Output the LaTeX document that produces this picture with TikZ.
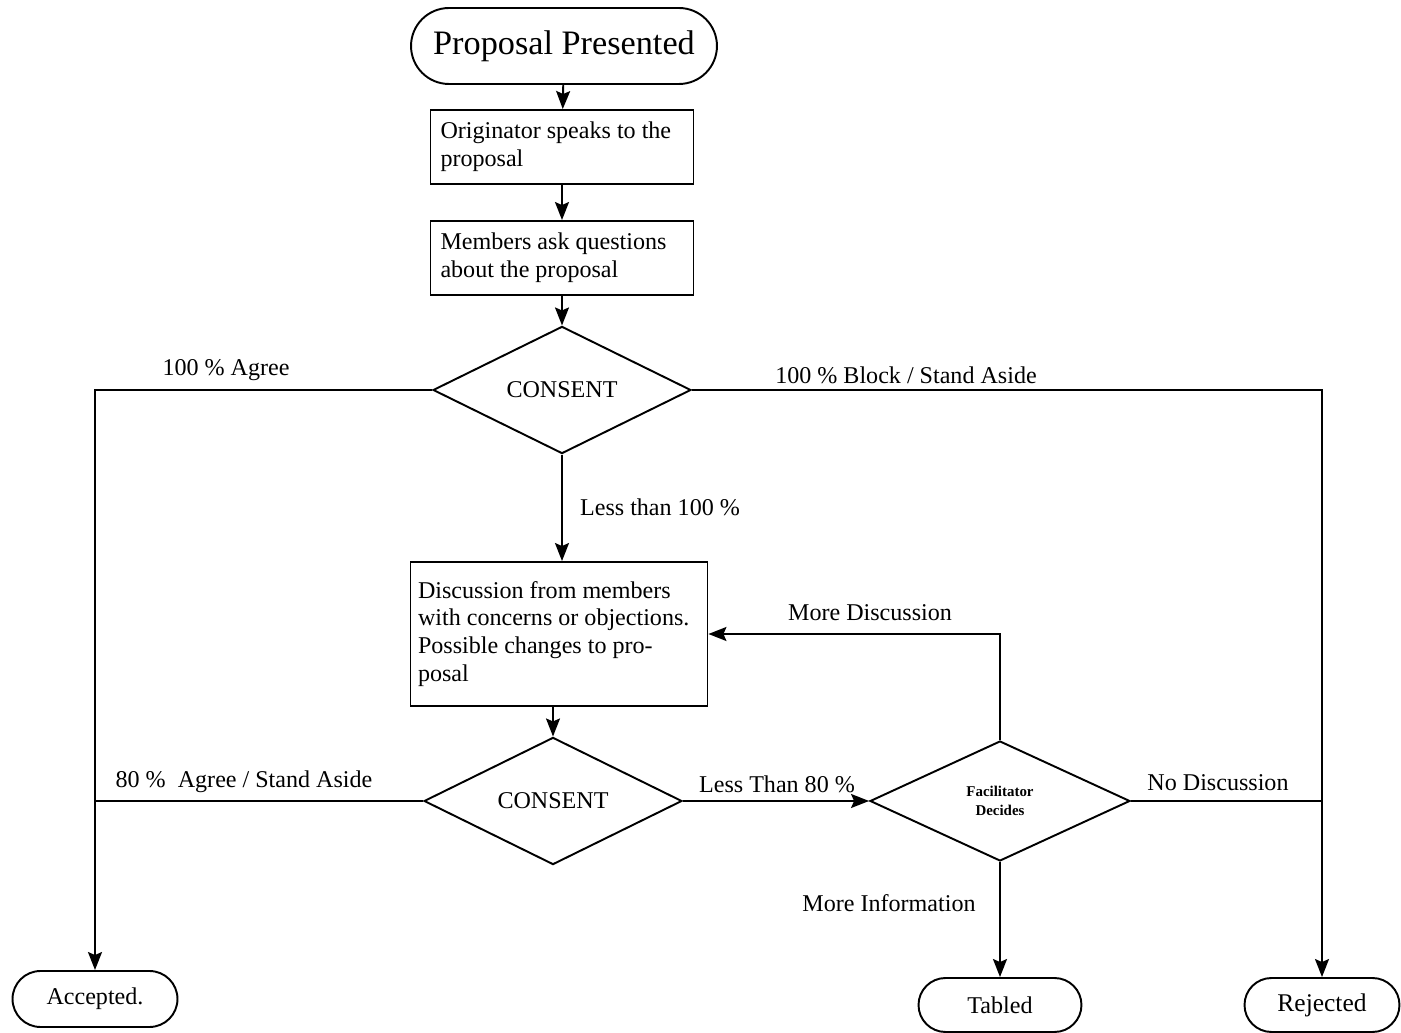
\documentclass[tikz,border=0pt]{standalone}
\usepackage{fontspec}
\setmainfont{Liberation Serif}
\usetikzlibrary{arrows.meta, positioning, shapes.geometric, shapes.misc}

\begin{document}
\begin{tikzpicture}[
    x=0.02cm, y=-0.02cm,
    line width=1.1pt,
    font=\fontsize{13.7}{15.9}\selectfont,
    ende/.style = {rounded rectangle, draw, minimum height=1.12cm, inner sep=0pt},
    punkt/.style = {rectangle, draw, align=flush left, inner sep=0.2cm, text width=4.86cm, minimum height=1.48cm},
    raute/.style = {diamond, draw, inner sep=0pt, minimum width=5.16cm, minimum height=2.4cm},
    pil/.style = {black, -{Stealth[length=3.6mm, width=2.8mm, inset=0.6mm]}},
    lab/.style = {inner sep=1pt}
    ]
  \useasboundingbox (0,0) rectangle (1401,1033);

  \node[ende, minimum width=6.12cm, minimum height=1.52cm, font=\fontsize{19.5}{22}\selectfont] (pp) at (564,46) {Proposal Presented};
  \node[punkt] (orig) at (562,147) {Originator speaks to the\\proposal};
  \node[punkt] (memb) at (562,258) {Members ask questions\\about the proposal};
  \node[raute] (cons1) at (562,390) {CONSENT};
  \node[punkt, inner sep=0.15cm, text width=5.64cm, minimum height=2.88cm] (disc) at (559,634) {Discussion from members\\with concerns or objections.\\Possible changes to pro-\\posal};
  \node[raute] (cons2) at (553,801) {CONSENT};
  \node[raute, minimum width=5.2cm, font=\fontsize{8.5}{11}\selectfont\bfseries, align=center] (fac) at (1000,801) {Facilitator\\Decides};

  \node[ende, minimum width=3.3cm] (acc) at (95,999) {Accepted.};
  \node[ende, minimum width=3.26cm, minimum height=1.08cm] (tab) at (1000,1005) {Tabled};
  \node[ende, minimum width=3.1cm, minimum height=1.08cm, font=\fontsize{14.5}{16}\selectfont] (rej) at (1322,1005) {Rejected};

  \node[lab] (l1) at (226,370) {100 \% Agree};
  \node[lab] (l2) at (906,375) {100 \% Block / Stand Aside};
  \node[lab] (l3) at (660,507) {Less than 100 \%};
  \node[lab] (l4) at (870,613) {More Discussion};
  \node[lab] (l5) at (244,782) {80 \%\ \ Agree / Stand Aside};
  \node[lab] (l6) at (777,784) {Less Than 80 \%};
  \node[lab] (l7) at (1218,783) {No Discussion};
  \node[lab] (l8) at (889,903) {More Information};

  \draw[pil] (pp) -- (orig);
  \draw[pil] (orig) -- (memb);
  \draw[pil] (memb) -- (cons1);
  \draw[pil] (cons1.south) -- (cons1.south |- disc.north);
  \draw[pil] (cons2 |- disc.south) -- (cons2.north);

  \draw[pil] (cons1.west) -| (acc.north);
  \draw[pil] (cons1.east) -| (rej.north);
  \draw (cons2.west) -- (cons2.west -| acc.north);
  \draw[pil] (cons2.east) -- (fac.west);
  \draw[pil] (fac.north) |- (disc.east);
  \draw (fac.east) -- (fac.east -| rej.north);
  \draw[pil] (fac.south) -- (tab.north);

\end{tikzpicture}
\end{document}
